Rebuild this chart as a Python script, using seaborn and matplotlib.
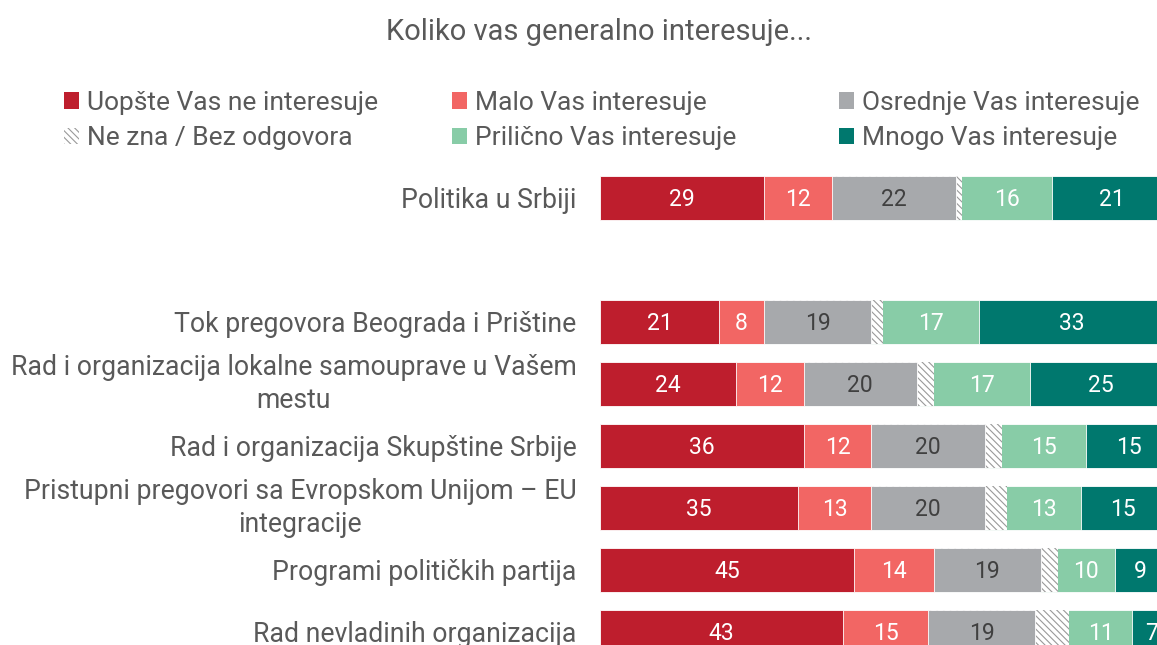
import numpy as np
import pandas as pd
import matplotlib
matplotlib.use("Agg")
import matplotlib.pyplot as plt
from matplotlib.patches import Patch
import seaborn as sns

# data
categories = [
    "Politika u Srbiji",
    " ",
    "Tok pregovora Beograda i Prištine",
    "Rad i organizacija lokalne samouprave u Vašem\nmestu",
    "Rad i organizacija Skupštine Srbije",
    "Pristupni pregovori sa Evropskom Unijom – EU\nintegracije",
    "Programi političkih partija",
    "Rad nevladinih organizacija",
]
series_names = [
    "Uopšte Vas ne interesuje",
    "Malo Vas interesuje",
    "Osrednje Vas interesuje",
    "Ne zna / Bez odgovora",
    "Prilično Vas interesuje",
    "Mnogo Vas interesuje",
]
uopste = [29, 0, 21, 24, 36, 35, 45, 43]
malo = [12, 0, 8, 12, 12, 13, 14, 15]
osrednje = [22, 0, 19, 20, 20, 20, 19, 19]
ne_zna = [1, 0, 2, 3, 3, 4, 3, 6]
prilicno = [16, 0, 17, 17, 15, 13, 10, 11]
mnogo = [21, 0, 33, 25, 15, 15, 9, 7]

colors = ["#BE1E2D", "#F26664", "#A7A9AC", "white", "#88CCA7", "#00786E"]
label_colors = ["white", "white", "#404040", None, "white", "white"]
text_gray = "#595959"
hatch = "\\\\\\\\\\"

sns.set_theme(style="white")
plt.rcParams["font.family"] = ["Roboto", "DejaVu Sans"]
plt.rcParams["hatch.linewidth"] = 0.8

values = np.array([uopste, malo, osrednje, ne_zna, prilicno, mnogo])
cum = values.cumsum(axis=0)

W, H = 1157, 645
fig = plt.figure(figsize=(W / 100, H / 100), dpi=100)
px_per_unit = 5.655
x_max = 103
ax = fig.add_axes([600 / W, 0, x_max * px_per_unit / W, (H - 160) / H])

# stacked bars: draw cumulative totals from the right so each segment overlaps the next
for i in reversed(range(len(series_names))):
    df_i = pd.DataFrame({"category": categories, "total": cum[i]})
    if i == 3:
        kw = dict(hatch=hatch, edgecolor="#9A9A9A", linewidth=0)
    else:
        kw = dict(edgecolor="white", linewidth=0.6)
    sns.barplot(data=df_i, x="total", y="category", order=categories,
                color=colors[i], width=0.7, saturation=1, errorbar=None,
                ax=ax, **kw)

for r, cat in enumerate(categories):
    if cat.strip() == "":
        continue
    for i in range(len(series_names)):
        if i == 3:
            continue
        v = values[i][r]
        ax.text(cum[i][r] - v / 2, r + 0.02, str(v), ha="center", va="center",
                fontsize=16.5, color=label_colors[i])

ax.set_xlim(0, x_max)
ax.set_ylim((H - 198) / 62, (160 - 198) / 62)
ax.set_xticks([])
ax.set_xlabel("")
ax.set_ylabel("")
ax.tick_params(axis="y", length=0, pad=17, labelsize=19.2, labelcolor=text_gray)
for lab in ax.get_yticklabels():
    if "\n" in lab.get_text():
        lab.set_multialignment("center")
        lab.set_linespacing(1.25)
        lab.set_verticalalignment("center")
sns.despine(ax=ax, left=True, bottom=True)

fig.text(599 / W, 1 - 32 / H, "Koliko vas generalno interesuje...",
         ha="center", va="center", fontsize=21, color=text_gray)

handles = []
for i, name in enumerate(series_names):
    if i == 3:
        handles.append(Patch(facecolor="white", edgecolor="#9A9A9A", hatch=hatch,
                             linewidth=0, label=name))
    else:
        handles.append(Patch(facecolor=colors[i], edgecolor="none", label=name))

col_x = [64, 452, 839]
pairs = [(0, 3), (1, 4), (2, 5)]
for x0, (a, b) in zip(col_x, pairs):
    fig.legend(handles=[handles[a], handles[b]], loc="upper left",
               bbox_to_anchor=(x0 / W, 1 - 91 / H), frameon=False,
               fontsize=19, labelcolor=text_gray, handlelength=0.58,
               handleheight=0.58, handletextpad=0.28, borderpad=0,
               borderaxespad=0, labelspacing=0.42)

fig.savefig("out.png", dpi=100)
